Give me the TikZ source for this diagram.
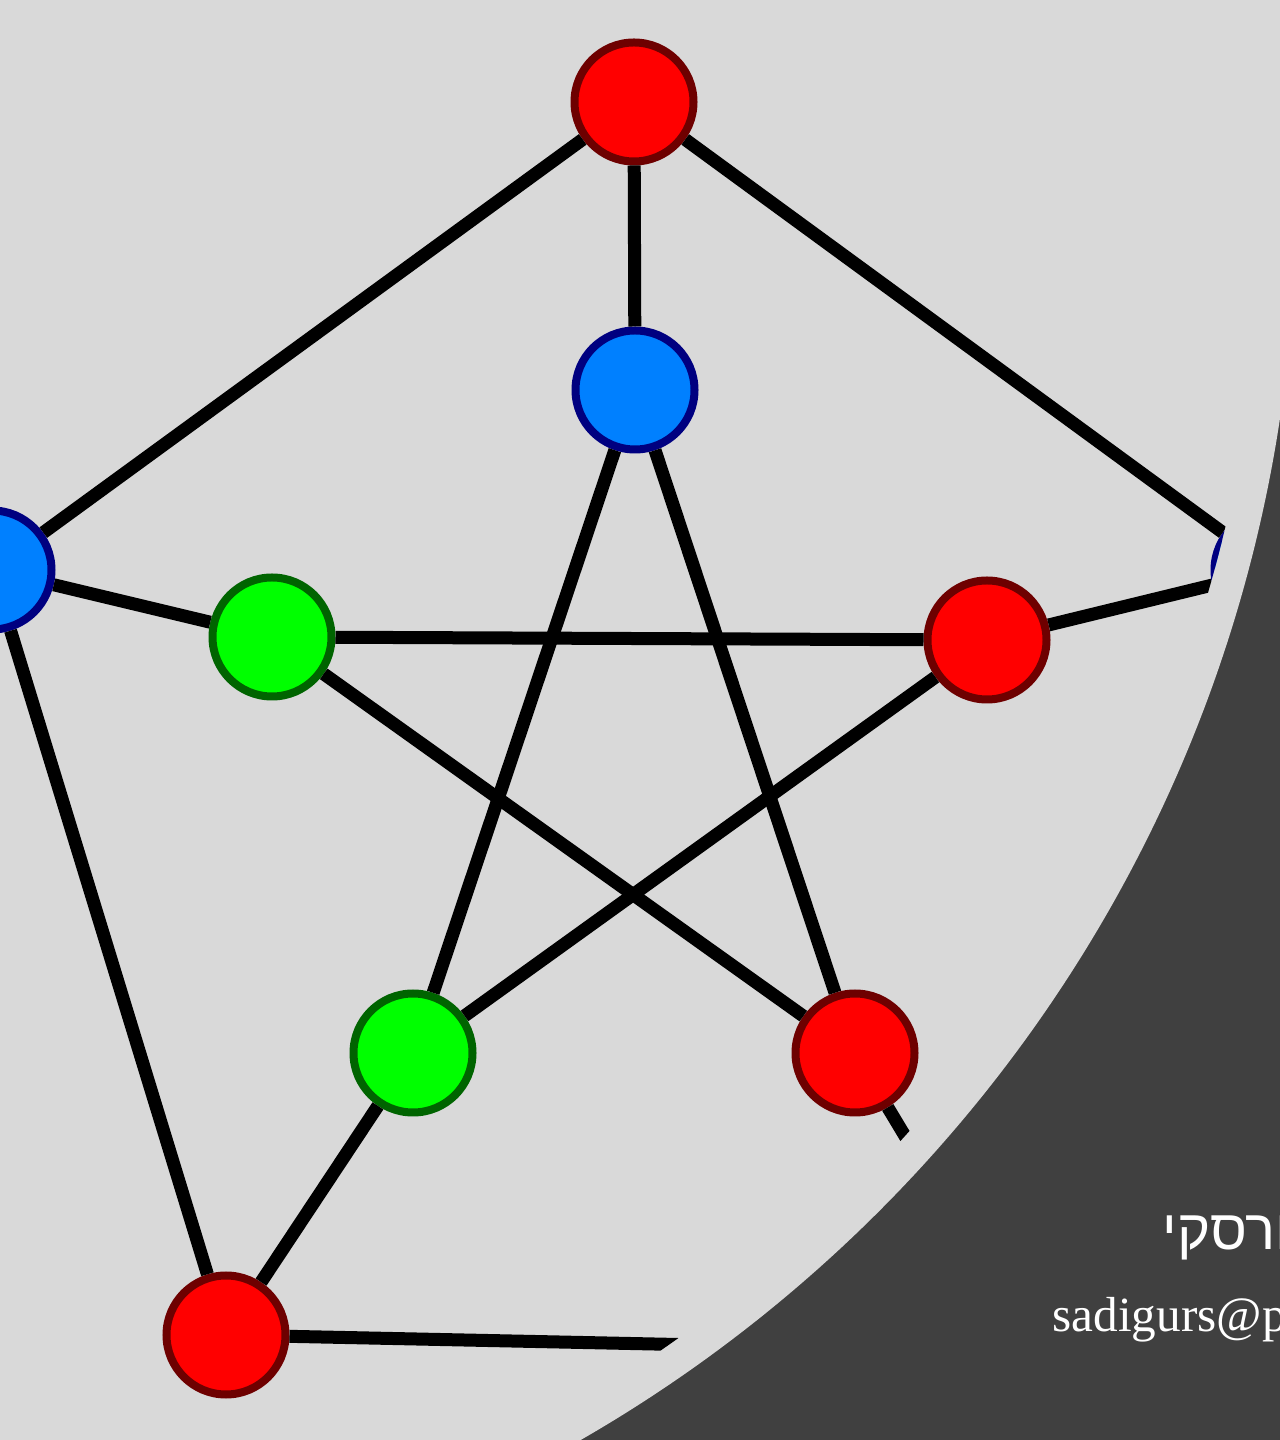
\documentclass[tikz,border=0pt]{standalone}
\usepackage{fontspec}
\setmainfont{Liberation Serif}
\newfontfamily\hebfont[Script=Hebrew]{Liberation Sans}
\TeXXeTstate=1
\definecolor{lightbg}{RGB}{217,217,217}
\definecolor{darkbg}{RGB}{64,64,64}
\definecolor{vred}{RGB}{255,0,0}
\definecolor{vredline}{RGB}{110,0,0}
\definecolor{vblue}{RGB}{0,128,255}
\definecolor{vblueline}{RGB}{0,0,128}
\definecolor{vgreen}{RGB}{0,255,0}
\definecolor{vgreenline}{RGB}{0,100,0}

\begin{document}
\begin{tikzpicture}[
    vertex/.style={circle, draw=#1line, fill=#1, line width=0.08cm, minimum size=1.19cm, inner sep=0pt},
    link/.style={line width=0.13cm, black},
    contact/.style={text=white, font=\fontsize{14}{17}\selectfont, inner sep=0pt},
  ]
  \useasboundingbox (0,0) rectangle (12.8,14.4);

  % Background: dark corner, light disc
  \fill[darkbg] (0,0) rectangle (12.8,14.4);
  \fill[lightbg] (-1.29,12.36) circle (14.25);

  \begin{scope}
    \clip (-1.29,12.36) circle (13.92);

    % Outer ring
    \node[vertex=vred] (top) at (6.34,13.38) {};
    \node[vertex=vblue] (outleft) at (-0.08,8.70) {};
    \node[vertex=vblue] (outright) at (12.74,8.70) {};
    \node[vertex=vred] (outbl) at (2.26,1.05) {};
    \node[vertex=vgreen] (outbr) at (10.35,0.88) {};

    % Inner star
    \node[vertex=vblue] (intop) at (6.35,10.50) {};
    \node[vertex=vgreen] (inleft) at (2.72,8.03) {};
    \node[vertex=vred] (inright) at (9.87,8.00) {};
    \node[vertex=vgreen] (inbl) at (4.13,3.87) {};
    \node[vertex=vred] (inbr) at (8.55,3.87) {};

    % Outer cycle
    \draw[link] (top) -- (outleft);
    \draw[link] (outleft) -- (outbl);
    \draw[link] (outbl) -- (outbr);
    \draw[link] (outbr) -- (outright);
    \draw[link] (outright) -- (top);

    % Spokes
    \draw[link] (top) -- (intop);
    \draw[link] (outleft) -- (inleft);
    \draw[link] (outright) -- (inright);
    \draw[link] (outbl) -- (inbl);
    \draw[link] (outbr) -- (inbr);

    % Star
    \draw[link] (intop) -- (inbl);
    \draw[link] (intop) -- (inbr);
    \draw[link] (inleft) -- (inright);
    \draw[link] (inleft) -- (inbr);
    \draw[link] (inright) -- (inbl);
  \end{scope}

  % Contact
  \node[contact, anchor=base west, font=\fontsize{16}{19}\selectfont] (name) at (11.62,1.90) {\hebfont\beginR סדיגורסקי\endR};
  \node[contact, anchor=base west] (mail) at (10.52,1.08) {sadigurs@post.bgu.ac.il};

\end{tikzpicture}
\end{document}
